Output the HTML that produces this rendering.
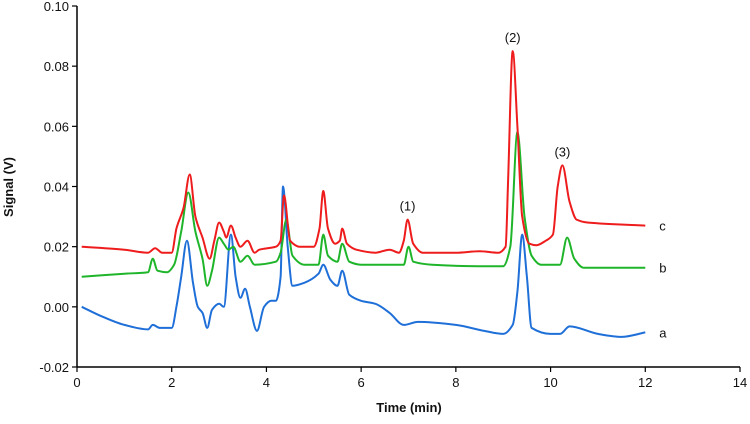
<!DOCTYPE html>
<html><head><meta charset="utf-8"><style>
html,body{margin:0;padding:0;background:#fff;}
svg text{font-family:"Liberation Sans",Arial,sans-serif;fill:#111;}
</style></head><body>
<svg id="chart" width="750" height="419" xmlns="http://www.w3.org/2000/svg">
<g id="axes"></g>
<g id="series"></g>
<text x="13" y="187" transform="rotate(-90 13 187)" text-anchor="middle" font-size="13" font-weight="bold">Signal (V)</text>
<text x="409" y="412" text-anchor="middle" font-size="13" font-weight="bold">Time (min)</text>
</svg>
<script>
const xTicks=[0,2,4,6,8,10,12,14];
const yTicks=[-0.02,0,0.02,0.04,0.06,0.08,0.10];
const yTickLabels=["-0.02","0.00","0.02","0.04","0.06","0.08","0.10"];
const timeC=[0.1,1.0,1.5,1.65,1.8,2.0,2.1,2.25,2.38,2.5,2.65,2.8,2.9,3.0,3.1,3.15,3.25,3.35,3.45,3.6,3.75,3.85,4.2,4.3,4.37,4.5,4.7,5.0,5.12,5.2,5.3,5.45,5.55,5.6,5.7,5.9,6.3,6.6,6.8,6.9,6.98,7.1,7.3,8.0,8.5,8.9,9.05,9.1,9.2,9.3,9.4,9.55,9.7,9.9,10.05,10.15,10.25,10.4,10.55,10.8,12.0];
const valC=[0.020,0.019,0.018,0.0195,0.018,0.018,0.026,0.033,0.044,0.030,0.023,0.016,0.022,0.028,0.025,0.023,0.027,0.023,0.020,0.022,0.018,0.019,0.020,0.022,0.037,0.022,0.020,0.020,0.026,0.0385,0.026,0.021,0.022,0.026,0.021,0.019,0.018,0.019,0.018,0.022,0.029,0.021,0.018,0.018,0.0185,0.018,0.020,0.040,0.085,0.060,0.030,0.021,0.0205,0.022,0.024,0.040,0.047,0.035,0.029,0.028,0.027];
const timeB=[0.1,1.0,1.5,1.6,1.7,1.9,2.05,2.2,2.35,2.5,2.65,2.75,2.85,3.0,3.1,3.2,3.3,3.45,3.6,3.75,4.2,4.3,4.42,4.55,4.8,5.1,5.2,5.3,5.5,5.6,5.75,6.0,6.9,7.0,7.1,7.5,8.5,9.0,9.15,9.3,9.45,9.6,9.8,10.2,10.35,10.5,10.7,12.0];
const valB=[0.010,0.011,0.0115,0.016,0.012,0.0115,0.014,0.025,0.038,0.025,0.016,0.007,0.012,0.023,0.021,0.019,0.020,0.015,0.017,0.014,0.015,0.018,0.029,0.017,0.014,0.014,0.024,0.017,0.015,0.021,0.015,0.014,0.014,0.020,0.015,0.014,0.0135,0.0135,0.020,0.058,0.030,0.017,0.014,0.014,0.023,0.016,0.013,0.013];
const timeA=[0.1,0.5,1.0,1.5,1.6,1.75,2.0,2.1,2.2,2.32,2.45,2.55,2.65,2.75,2.85,3.0,3.1,3.25,3.35,3.45,3.55,3.65,3.8,3.95,4.1,4.2,4.3,4.35,4.45,4.55,4.8,5.1,5.2,5.35,5.5,5.6,5.75,6.0,6.3,6.6,6.9,7.2,8.0,8.6,9.0,9.2,9.3,9.4,9.5,9.6,10.0,10.2,10.4,11.0,11.5,12.0];
const valA=[0.0,-0.003,-0.006,-0.0075,-0.006,-0.007,-0.007,0.0,0.010,0.022,0.008,0.000,-0.002,-0.007,-0.001,0.001,0.000,0.024,0.010,0.003,0.006,0.000,-0.008,0.000,0.002,0.002,0.010,0.040,0.020,0.007,0.008,0.011,0.014,0.009,0.007,0.012,0.004,0.002,0.001,-0.002,-0.006,-0.005,-0.006,-0.008,-0.009,-0.006,0.005,0.024,0.010,-0.007,-0.009,-0.009,-0.0065,-0.009,-0.010,-0.0085];

const X0=77,X1=740,Y0=367,Y1=6;
function xs(t){return X0+(t/14)*(X1-X0);}
function ys(v){return Y0-((v+0.02)/0.12)*(Y0-Y1);}
const NS="http://www.w3.org/2000/svg";
const axes=document.getElementById('axes');
const sg=document.getElementById('series');
function mk(tag,attrs,parent){const e=document.createElementNS(NS,tag);for(const k in attrs)e.setAttribute(k,attrs[k]);parent.appendChild(e);return e;}

// monotone cubic path
function monoPath(px,py){
  const n=px.length,d=[],m=new Array(n);
  for(let i=0;i<n-1;i++)d.push((py[i+1]-py[i])/(px[i+1]-px[i]));
  m[0]=d[0];m[n-1]=d[n-2];
  for(let i=1;i<n-1;i++){m[i]=(d[i-1]*d[i]<=0)?0:(2/(1/d[i-1]+1/d[i]));}
  let s='M'+px[0].toFixed(1)+','+py[0].toFixed(1);
  for(let i=0;i<n-1;i++){const h=(px[i+1]-px[i])/3;
    s+=' C'+(px[i]+h).toFixed(1)+','+(py[i]+m[i]*h).toFixed(1)+' '+(px[i+1]-h).toFixed(1)+','+(py[i+1]-m[i+1]*h).toFixed(1)+' '+px[i+1].toFixed(1)+','+py[i+1].toFixed(1);}
  return s;
}

let l=mk('line',{x1:X0,y1:Y1,x2:X0,y2:Y0,stroke:'#000','stroke-width':1.5},axes);


l=mk('line',{x1:X0,y1:Y0,x2:X1,y2:Y0,stroke:'#000','stroke-width':1.5},axes);


xTicks.forEach(t=>{
  const tk=mk('line',{x1:xs(t),y1:Y0,x2:xs(t),y2:Y0+5,stroke:'#000','stroke-width':1.2},axes);
  
  
  const tx=mk('text',{x:xs(t),y:Y0+20,'text-anchor':'middle','font-size':13},axes);
  tx.textContent=t;
  
  
});
yTicks.forEach((v,i)=>{
  const tk=mk('line',{x1:X0-5,y1:ys(v),x2:X0,y2:ys(v),stroke:'#000','stroke-width':1.2},axes);
  
  
  const tx=mk('text',{x:X0-8,y:ys(v)+5,'text-anchor':'end','font-size':13},axes);
  tx.textContent=yTickLabels[i];
  
  
});
const defs=[[timeA,valA,'#1f6fd8','a'],[timeB,valB,'#1fb52a','b'],[timeC,valC,'#ee1c1c','c']];
defs.forEach(([T,V,col,nm])=>{
  const d=monoPath(T.map(xs),V.map(ys));
  const p=mk('path',{d:d,fill:'none',stroke:col,'stroke-width':2,'stroke-linejoin':'round'},sg);
  
  
  const lb=mk('text',{x:xs(T[T.length-1])+14,y:ys(V[V.length-1])+5,'font-size':13},sg);
  lb.textContent=nm;
  
  
});
const annT=[6.98,9.2,10.25];
const annV=[0.029,0.085,0.047];
const annL=["(1)","(2)","(3)"];
annT.forEach((t,i)=>{
  const a=mk('text',{x:xs(t),y:ys(annV[i])-9,'text-anchor':'middle','font-size':13},sg);
  a.textContent=annL[i];
  
  
});
</script>
</body></html>
